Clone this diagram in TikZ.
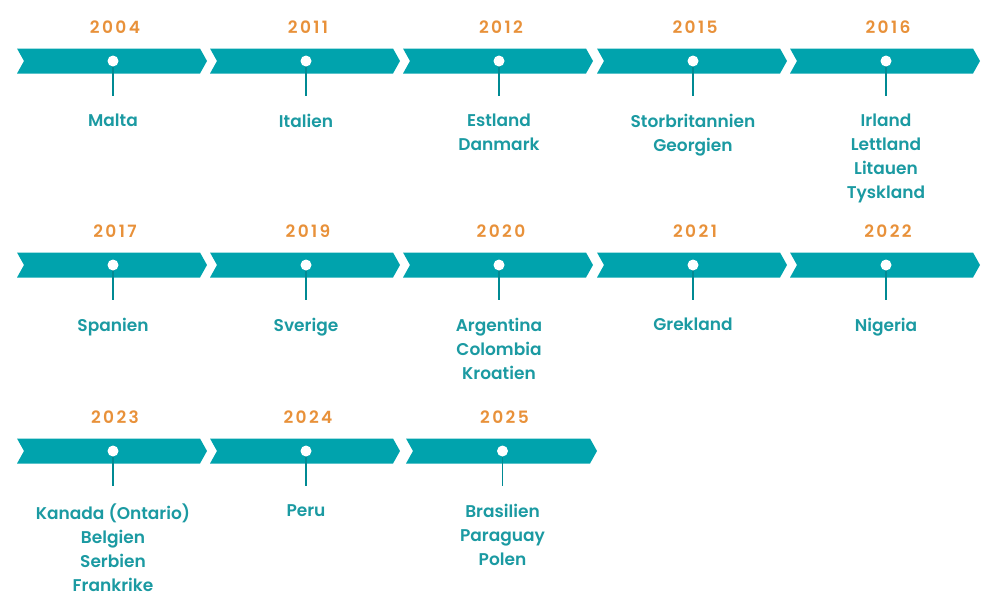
\documentclass[tikz,border=0pt]{standalone}
\usepackage{fontspec}
\setmainfont{Poppins}[BoldFont={Poppins SemiBold}]
\definecolor{teal}{HTML}{00A3AD}
\definecolor{lab}{HTML}{1B9AA2}
\definecolor{org}{HTML}{E8913A}
\begin{document}
\begin{tikzpicture}[x=1pt,y=-1pt,
  yr/.style={text=org,font=\bfseries\fontsize{17}{18}\selectfont\addfontfeature{LetterSpace=14}},
  lb/.style={text=lab,font=\bfseries\fontsize{17}{24}\selectfont,align=center,anchor=north,inner sep=0pt}]
\useasboundingbox (0,0) rectangle (998,606);
\newcommand{\ev}[6]{% x0, width, yc, year, label, name
  \fill[teal] (#1,#3-12.5) -- (#1+#2-7,#3-12.5) -- (#1+#2,#3) -- (#1+#2-7,#3+12.5) -- (#1,#3+12.5) -- (#1+7,#3) -- cycle;
  \coordinate (#6c) at (#1+#2/2+1,#3);
  \draw[teal!85!black,line width=1.6pt] (#6c) -- ++(0,35);
  \fill[white] (#6c) circle (5.5);
  \node[yr] (#6y) at (#1+#2/2+3,#3-34) {#4};
  \node[lb] (#6l) at (#1+#2/2+1,#3+53) {#5};
}
\ev{17}{190}{61}{2004}{Malta}{a}
\ev{210}{190}{61}{2011}{Italien}{b}
\ev{403}{190}{61}{2012}{Estland\\Danmark}{c}
\ev{597}{190}{61}{2015}{Storbritannien\\Georgien}{d}
\ev{790}{190}{61}{2016}{Irland\\Lettland\\Litauen\\Tyskland}{e}
\ev{17}{190}{265}{2017}{Spanien}{f}
\ev{210}{190}{265}{2019}{Sverige}{g}
\ev{403}{190}{265}{2020}{Argentina\\Colombia\\Kroatien}{h}
\ev{597}{190}{265}{2021}{Grekland}{i}
\ev{790}{190}{265}{2022}{Nigeria}{j}
\ev{17}{190}{451}{2023}{Kanada (Ontario)\\Belgien\\Serbien\\Frankrike}{k}
\ev{210}{190}{451}{2024}{Peru}{l}
\ev{406}{191}{451}{2025}{Brasilien\\Paraguay\\Polen}{m}
\end{tikzpicture}
\end{document}
